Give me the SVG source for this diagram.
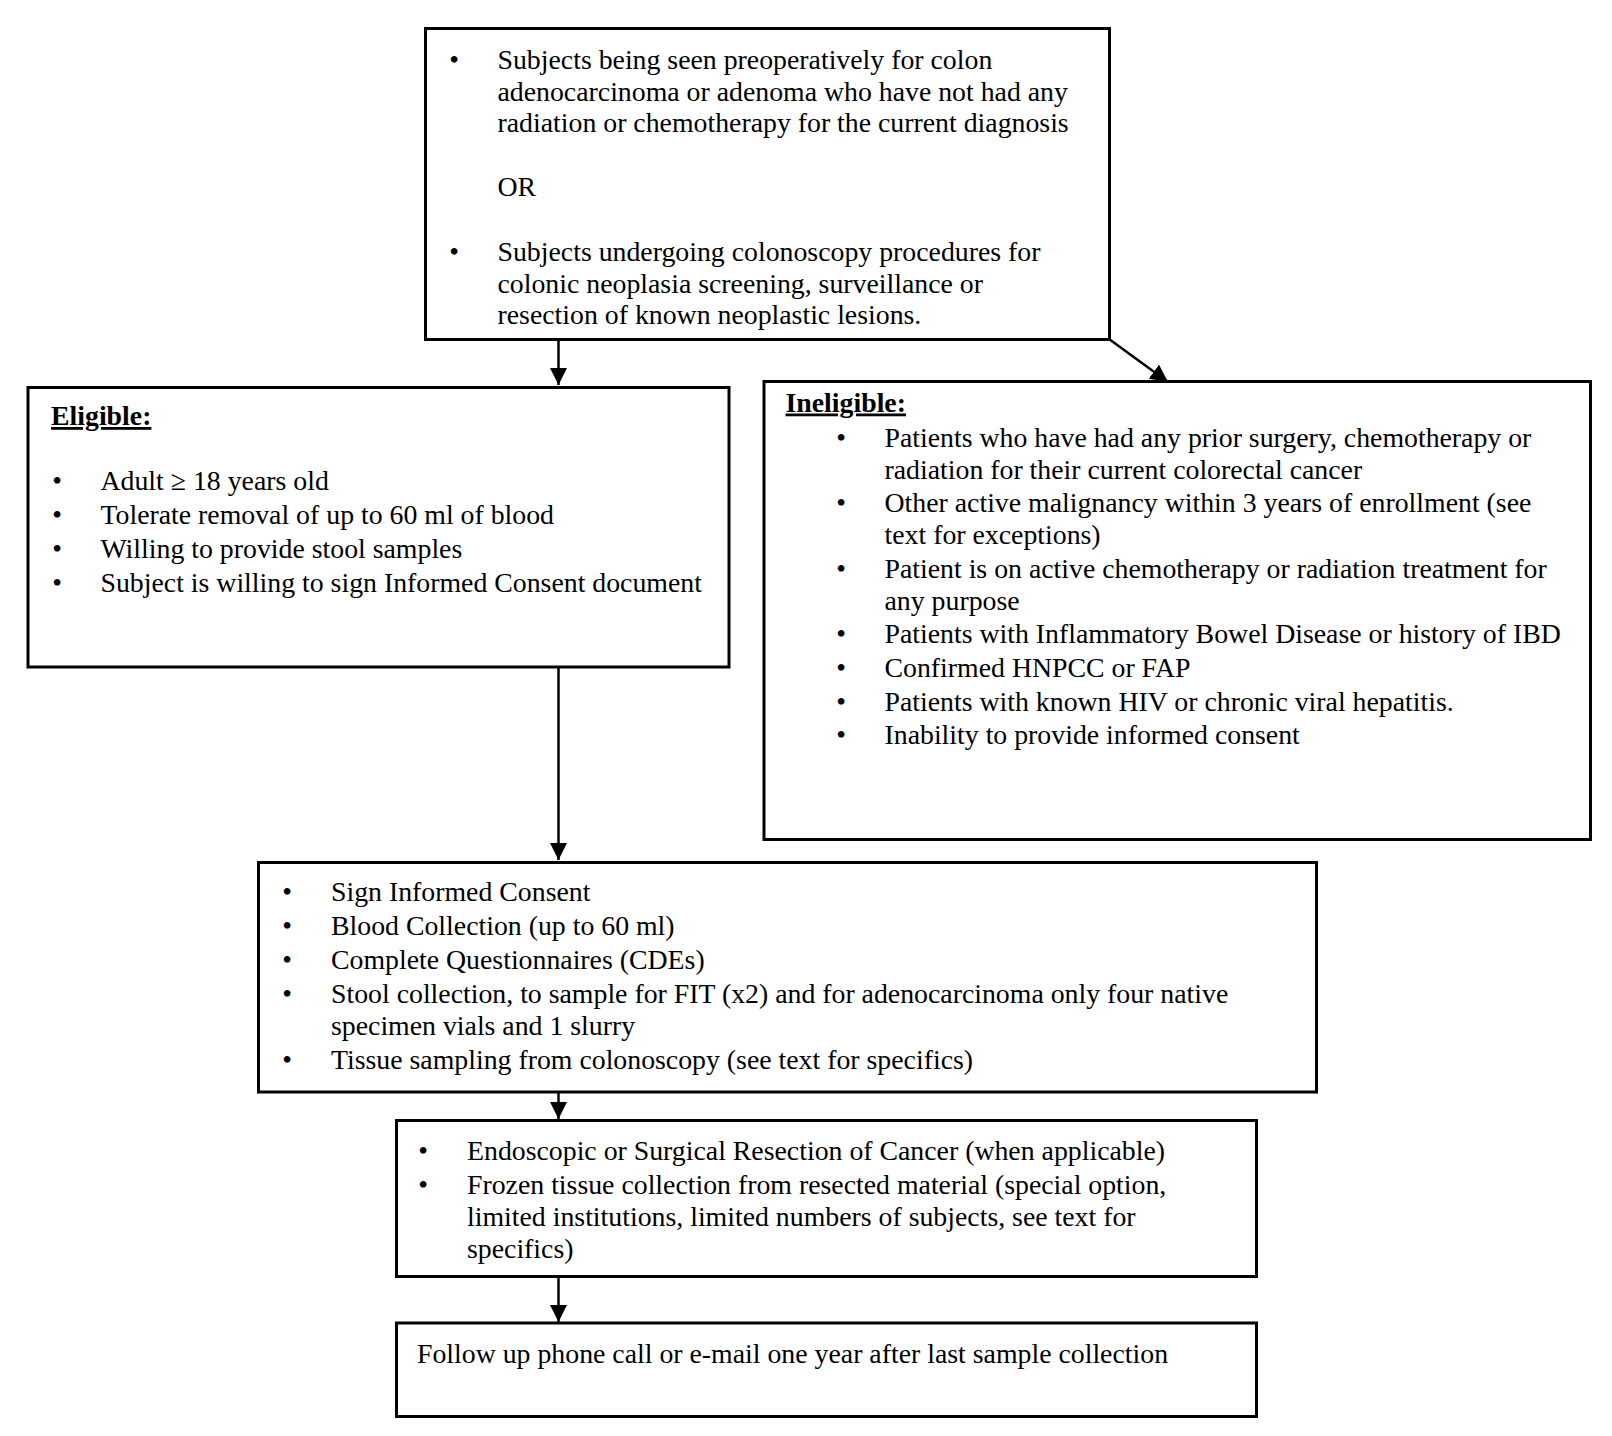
<svg xmlns="http://www.w3.org/2000/svg" width="1612" height="1436" viewBox="0 0 1612 1436">
<defs>
<style>
.box{fill:#fff;stroke:#000;stroke-width:3}
.t{font-family:"Liberation Serif","Times New Roman",serif;font-size:27.8px;fill:#000}
.b{font-family:"Liberation Serif","Times New Roman",serif;font-size:27.8px;fill:#000;text-anchor:middle}
.h{font-family:"Liberation Serif","Times New Roman",serif;font-size:27.8px;font-weight:bold;fill:#000;text-decoration:underline}
.c{stroke:#000;stroke-width:2.5;fill:none}
</style>
<marker id="ah" viewBox="0 0 10 10" refX="10" refY="5" markerWidth="7" markerHeight="7" markerUnits="strokeWidth" orient="auto">
<path d="M0,0 L10,5 L0,10 z" fill="#000"/>
</marker>
</defs>
<rect width="1612" height="1436" fill="#fff"/>

<g id="connectors">
<line class="c" x1="558.5" y1="340" x2="558.5" y2="385" marker-end="url(#ah)"/>
<line class="c" x1="1109" y1="339" x2="1168" y2="382" marker-end="url(#ah)"/>
<line class="c" x1="558.5" y1="668" x2="558.5" y2="860" marker-end="url(#ah)"/>
<line class="c" x1="558.5" y1="1093" x2="558.5" y2="1119" marker-end="url(#ah)"/>
<line class="c" x1="558.5" y1="1278" x2="558.5" y2="1322" marker-end="url(#ah)"/>
</g>

<g id="criteria">
<rect class="box" x="425.5" y="28.5" width="684" height="311"/>
<text class="b" x="454" y="68.5">•</text>
<text class="t" x="497.5" y="68.5">Subjects being seen preoperatively for colon</text>
<text class="t" x="497.5" y="100.5">adenocarcinoma or adenoma who have not had any</text>
<text class="t" x="497.5" y="132">radiation or chemotherapy for the current diagnosis</text>
<text class="t" x="497.5" y="195.5">OR</text>
<text class="b" x="454" y="260.5">•</text>
<text class="t" x="497.5" y="260.5">Subjects undergoing colonoscopy procedures for</text>
<text class="t" x="497.5" y="292.5">colonic neoplasia screening, surveillance or</text>
<text class="t" x="497.5" y="324">resection of known neoplastic lesions.</text>
</g>

<g id="eligible">
<rect class="box" x="28" y="387.5" width="701" height="279.5"/>
<text class="h" x="51" y="425">Eligible:</text>
<text class="b" x="57" y="490">•</text>
<text class="t" x="100.5" y="490">Adult ≥ 18 years old</text>
<text class="b" x="57" y="524">•</text>
<text class="t" x="100.5" y="524">Tolerate removal of up to 60 ml of blood</text>
<text class="b" x="57" y="558">•</text>
<text class="t" x="100.5" y="558">Willing to provide stool samples</text>
<text class="b" x="57" y="592">•</text>
<text class="t" x="100.5" y="592">Subject is willing to sign Informed Consent document</text>
</g>

<g id="ineligible">
<rect class="box" x="764" y="381.5" width="826.5" height="458"/>
<text class="h" x="785.5" y="411.5">Ineligible:</text>
<text class="b" x="841" y="446.5">•</text>
<text class="t" x="884.5" y="446.5">Patients who have had any prior surgery, chemotherapy or</text>
<text class="t" x="884.5" y="478.5">radiation for their current colorectal cancer</text>
<text class="b" x="841" y="511.5">•</text>
<text class="t" x="884.5" y="511.5">Other active malignancy within 3 years of enrollment (see</text>
<text class="t" x="884.5" y="544">text for exceptions)</text>
<text class="b" x="841" y="577.5">•</text>
<text class="t" x="884.5" y="577.5">Patient is on active chemotherapy or radiation treatment for</text>
<text class="t" x="884.5" y="609.5">any purpose</text>
<text class="b" x="841" y="643">•</text>
<text class="t" x="884.5" y="643">Patients with Inflammatory Bowel Disease or history of IBD</text>
<text class="b" x="841" y="676.5">•</text>
<text class="t" x="884.5" y="676.5">Confirmed HNPCC or FAP</text>
<text class="b" x="841" y="710.5">•</text>
<text class="t" x="884.5" y="710.5">Patients with known HIV or chronic viral hepatitis.</text>
<text class="b" x="841" y="744">•</text>
<text class="t" x="884.5" y="744">Inability to provide informed consent</text>
</g>

<g id="procedures">
<rect class="box" x="258.5" y="862.5" width="1058" height="229.5"/>
<text class="b" x="287" y="900.5">•</text>
<text class="t" x="331" y="900.5">Sign Informed Consent</text>
<text class="b" x="287" y="934.5">•</text>
<text class="t" x="331" y="934.5">Blood Collection (up to 60 ml)</text>
<text class="b" x="287" y="968.5">•</text>
<text class="t" x="331" y="968.5">Complete Questionnaires (CDEs)</text>
<text class="b" x="287" y="1002.5">•</text>
<text class="t" x="331" y="1002.5">Stool collection, to sample for FIT (x2) and for adenocarcinoma only four native</text>
<text class="t" x="331" y="1034.5">specimen vials and 1 slurry</text>
<text class="b" x="287" y="1068.5">•</text>
<text class="t" x="331" y="1068.5">Tissue sampling from colonoscopy (see text for specifics)</text>
</g>

<g id="resection">
<rect class="box" x="396.5" y="1120.5" width="860" height="156"/>
<text class="b" x="423" y="1160">•</text>
<text class="t" x="467" y="1160">Endoscopic or Surgical Resection of Cancer (when applicable)</text>
<text class="b" x="423" y="1193.5">•</text>
<text class="t" x="467" y="1193.5">Frozen tissue collection from resected material (special option,</text>
<text class="t" x="467" y="1225.5">limited institutions, limited numbers of subjects, see text for</text>
<text class="t" x="467" y="1257.5">specifics)</text>
</g>

<g id="followup">
<rect class="box" x="396.5" y="1323" width="860" height="93.5"/>
<text class="t" x="417" y="1362.5">Follow up phone call or e-mail one year after last sample collection</text>
</g>
</svg>
